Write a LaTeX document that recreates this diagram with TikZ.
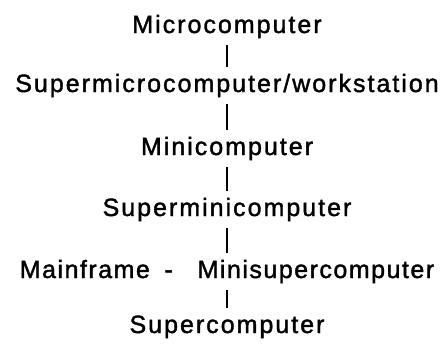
\documentclass[tikz,border=0pt]{standalone}
\usepackage{fontspec}
\setmainfont{Liberation Sans}[LetterSpace=8, FakeBold=1.5]

\begin{document}
\begin{tikzpicture}[x=1pt, y=-1pt]

\def\xc{227}
\def\gap{7pt}

\tikzset{level/.style={font=\fontsize{25}{30}\selectfont, inner sep=0pt, anchor=base}}
\tikzset{link/.style={line width=1.8pt, shorten <=\gap, shorten >=\gap}}

\useasboundingbox (0,0) rectangle (446,343);

% classes of computer
\node[level] (micro)      at (\xc,  33) {Microcomputer};
\node[level] (supermicro) at (\xc,  92) {Supermicrocomputer/workstation};
\node[level] (mini)       at (\xc, 155) {Minicomputer};
\node[level] (supermini)  at (\xc, 216) {Superminicomputer};
\node[level] (mainframe)  at (\xc, 278) {\addfontfeature{LetterSpace=6}Mainframe\enspace\hspace{2pt}-\enspace\hspace{4pt} Minisupercomputer};
\node[level] (super)      at (\xc, 333) {Supercomputer};

% links
\draw[link] (micro.south)      -- (supermicro.north);
\draw[link] (supermicro.south) -- (mini.north);
\draw[link] (mini.south)       -- (supermini.north);
\draw[link] (supermini.south)  -- (mainframe.north);
\draw[link] (mainframe.south)  -- (super.north);

\end{tikzpicture}
\end{document}
